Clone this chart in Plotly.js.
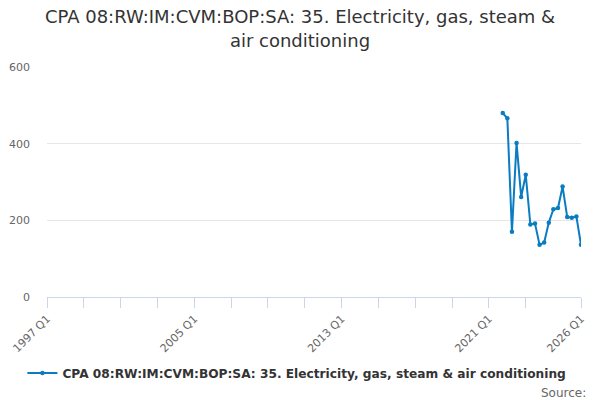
<!DOCTYPE html>
<html>
<head>
<meta charset="utf-8">
<script src="https://cdn.plot.ly/plotly-3.0.1.min.js"></script>
<style>html,body{margin:0;padding:0;background:#fff}#chart{width:600px;height:400px}</style>
</head>
<body>
<div id="chart"></div>
<script>
// Data quarters and values
const quarters = ["2021 Q4","2022 Q1","2022 Q2","2022 Q3","2022 Q4","2023 Q1","2023 Q2","2023 Q3","2023 Q4","2024 Q1","2024 Q2","2024 Q3","2024 Q4","2025 Q1","2025 Q2","2025 Q3","2025 Q4","2026 Q1"];
const values = [480, 466, 170, 402, 261, 319, 189, 192, 136, 142, 194, 229, 232, 288, 209, 207, 210, 136];
const seriesName = "CPA 08:RW:IM:CVM:BOP:SA: 35. Electricity, gas, steam & air conditioning";
const labelledTicks = ["1997 Q1","2005 Q1","2013 Q1","2021 Q1","2026 Q1"];
const startYear = 1997, endYear = 2026;

// full category list of quarters for axis
const allQuarters = [];
for (let y = startYear; y <= endYear; y++) {
  for (let q = 1; q <= 4; q++) {
    if (y === endYear && q > 1) break;
    allQuarters.push(y + " Q" + q);
  }
}
// tick positions every 2 years plus the last quarter
const tickvals = [];
for (let y = startYear; y <= 2023; y += 2) tickvals.push(y + " Q1");
tickvals.push(endYear + " Q1");
const ticktext = tickvals.map(v => labelledTicks.includes(v) ? v : "");

const trace = {
  x: quarters, y: values, type: "scatter", mode: "lines+markers",
  name: seriesName,
  line: {color: "#0a7cc1", width: 2},
  marker: {color: "#0a7cc1", size: 4.5}
};

const layout = {
  width: 600, height: 400,
  margin: {l: 47, r: 19, t: 67, b: 103},
  paper_bgcolor: "#fff", plot_bgcolor: "#fff",
  font: {family: "DejaVu Sans, sans-serif", color: "#666"},
  title: {text: "CPA 08:RW:IM:CVM:BOP:SA: 35. Electricity, gas, steam &<br>air conditioning",
          x: 0.5, xanchor: "center", y: 0.942, yanchor: "middle", automargin: false,
          font: {family: "DejaVu Sans, sans-serif", size: 18, color: "#333"}},
  xaxis: {
    type: "category", categoryorder: "array", categoryarray: allQuarters,
    range: [0, allQuarters.length - 1], automargin: false,
    tickmode: "array", tickvals: tickvals, ticktext: ticktext,
    tickangle: -45, ticks: "outside", ticklen: 10, tickcolor: "#ccd6eb",
    showgrid: false, showline: true, linecolor: "#ccd6eb", linewidth: 1,
    zeroline: false, tickfont: {size: 11, color: "#666"}, fixedrange: true
  },
  yaxis: {
    range: [0, 600], tickvals: [0, 200, 400, 600], automargin: false,
    showgrid: true, gridcolor: "#e6e6e6", zeroline: false, showline: false,
    ticks: "", ticklabelstandoff: 16, tickfont: {size: 11, color: "#666"}
  },
  showlegend: true,
  legend: {orientation: "h", x: 0.468, xanchor: "center", xref: "paper",
           y: 0.0675, yanchor: "middle", yref: "container",
           font: {size: 12.2, color: "#333", weight: "bold"}},
  annotations: [{text: "Source:", xref: "paper", yref: "paper", x: 1.0131, y: -0.417,
                 xanchor: "right", yanchor: "middle", showarrow: false,
                 font: {size: 12, color: "#666"}}]
};

Plotly.newPlot("chart", [trace], layout, {displayModeBar: false, staticPlot: true});
</script>
</body>
</html>
